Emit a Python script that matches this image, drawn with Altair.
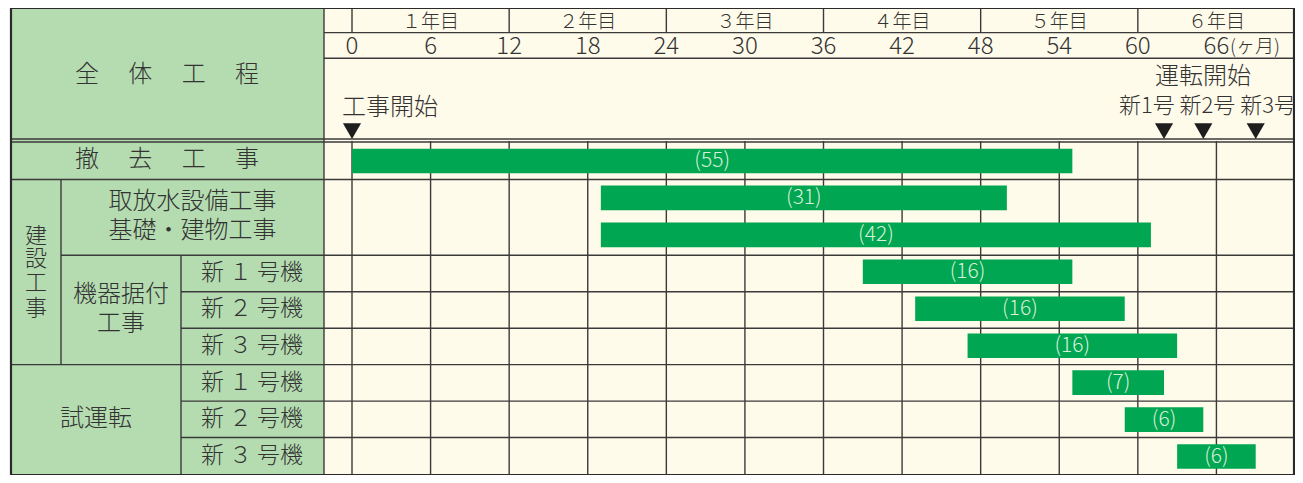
import altair as alt
import pandas as pd

# ---------------- data ----------------
tasks = ["撤去工事", "取放水設備工事", "基礎・建物工事",
         "機器据付 新1号機", "機器据付 新2号機", "機器据付 新3号機",
         "試運転 新1号機", "試運転 新2号機", "試運転 新3号機"]
start_month = [0, 19, 19, 39, 43, 47, 55, 59, 63]
end_month = [55, 50, 61, 55, 59, 63, 62, 65, 69]

month_ticks = [0, 6, 12, 18, 24, 30, 36, 42, 48, 54, 60, 66]
year_labels = ["１年目", "２年目", "３年目", "４年目", "５年目", "６年目"]
year_mid = [6, 18, 30, 42, 54, 66]
year_bounds = [0, 12, 24, 36, 48, 60]

start_marker = [0]
op_markers = [62, 65, 69]

# ---------------- layout helpers ----------------
FONT = "Noto Sans CJK JP"
W, H = 1287, 467
PPM = 13.097            # page pixels per month in the reference


def mx(px):             # reference page x -> month units
    return (px - 352) / PPM


def ry(py):             # reference page y -> row units
    return (py - 142.5) / 37.5


XMIN, XMAX = mx(8), 72.0
YMIN, YMAX = ry(6), 9.0
XR = mx(1294)

XS = alt.Scale(domain=[XMIN, XMAX], nice=False, zero=False)
YS = alt.Scale(domain=[YMIN, YMAX], nice=False, zero=False, reverse=True)

GREEN_PANEL = "#b4dcb0"
CREAM = "#fffbea"
BAR = "#00a651"
LINE = "#3a3a3a"
TXT = "#333333"


def rects(df, **kw):
    return alt.Chart(df).mark_rect(**kw).encode(
        x=alt.X("x:Q", scale=XS, axis=None), x2="x2:Q",
        y=alt.Y("y:Q", scale=YS, axis=None), y2="y2:Q")


def rules(df, **kw):
    return alt.Chart(df).mark_rule(**kw).encode(
        x=alt.X("x:Q", scale=XS, axis=None), x2="x2:Q",
        y=alt.Y("y:Q", scale=YS, axis=None), y2="y2:Q")


def texts(df, size, color=TXT, align="center", weight=300):
    return alt.Chart(df).mark_text(
        font=FONT, fontSize=size, fontWeight=weight, color=color,
        align=align, baseline="middle").encode(
        x=alt.X("x:Q", scale=XS, axis=None),
        y=alt.Y("y:Q", scale=YS, axis=None),
        text="t:N")


# ---------------- backgrounds ----------------
bg = rects(pd.DataFrame({
    "x": [mx(11), mx(324)], "x2": [mx(324), XR],
    "y": [YMIN, YMIN], "y2": [YMAX, YMAX],
    "c": [GREEN_PANEL, CREAM]})).encode(color=alt.Color("c:N", scale=None))

# ---------------- grid / table lines ----------------
seg = []
for yy in (31, 57):
    seg.append((mx(324), XR, ry(yy), ry(yy)))
for yy in (139, 142):
    seg.append((mx(11), XR, ry(yy), ry(yy)))
for yy, x0 in [(180, 11), (257, 61), (294, 181), (331, 181), (368, 11), (405, 181), (442, 181)]:
    seg.append((mx(x0), XR, ry(yy), ry(yy)))
seg.append((mx(61), mx(61), ry(180), ry(368)))
seg.append((mx(181), mx(181), ry(257), YMAX))
seg.append((mx(324), mx(324), YMIN, YMAX))
for m in year_bounds:
    seg.append((m, m, YMIN, ry(31)))
for m in month_ticks:
    seg.append((m, m, ry(141), YMAX))
grid = rules(pd.DataFrame(seg, columns=["x", "x2", "y", "y2"]),
             color=LINE, strokeWidth=1.4)

border = rules(pd.DataFrame([
    (mx(11), XR, YMIN, YMIN), (mx(11), XR, YMAX, YMAX),
    (mx(11), mx(11), YMIN, YMAX), (XR, XR, YMIN, YMAX)],
    columns=["x", "x2", "y", "y2"]), color="#2a2a2a", strokeWidth=2.2)

# ---------------- bars ----------------
bars_df = pd.DataFrame({"task": tasks, "s": start_month, "e": end_month})
bars_df["lane"] = range(len(tasks))
bars_df["y"] = bars_df["lane"] + 0.5 - 0.333
bars_df["y2"] = bars_df["lane"] + 0.5 + 0.333
bars_df["mid"] = (bars_df["s"] + bars_df["e"]) / 2
bars_df["yc"] = bars_df["lane"] + 0.5
bars_df["label"] = "(" + (bars_df["e"] - bars_df["s"]).astype(str) + ")"

bars = alt.Chart(bars_df).mark_rect(color=BAR).encode(
    x=alt.X("s:Q", scale=XS, axis=None), x2="e:Q",
    y=alt.Y("y:Q", scale=YS, axis=None), y2="y2:Q")

bar_labels = alt.Chart(bars_df).mark_text(
    font=FONT, fontSize=21, fontWeight=300, color="#d8efd8",
    align="center", baseline="middle").encode(
    x=alt.X("mid:Q", scale=XS, axis=None),
    y=alt.Y("yc:Q", scale=YS, axis=None),
    text="label:N")

# ---------------- header texts ----------------
year_txt = texts(pd.DataFrame({"x": year_mid, "y": [ry(20)] * 6, "t": year_labels}), 19)
month_txt = texts(pd.DataFrame({"x": month_ticks, "y": [ry(46)] * len(month_ticks),
                                "t": [str(m) for m in month_ticks]}), 24)
unit_txt = texts(pd.DataFrame({"x": [mx(1230)], "y": [ry(46)], "t": ["(ヶ月)"]}), 19, align="left")

ms_left = texts(pd.DataFrame({"x": [mx(342)], "y": [ry(107)], "t": ["工事開始"]}), 24, align="left")
ms_right = texts(pd.DataFrame({"x": [mx(1203)], "y": [ry(76)], "t": ["運転開始"]}), 24)
ms_units = texts(pd.DataFrame({"x": [mx(1296)], "y": [ry(105)], "t": ["新1号 新2号 新3号"]}), 22, align="right")

markers = alt.Chart(pd.DataFrame({"m": start_marker + op_markers})).mark_point(
    shape="triangle-down", filled=True, color="#1e1e1e", size=330, opacity=1).encode(
    x=alt.X("m:Q", scale=XS, axis=None),
    y=alt.Y("yy:Q", scale=YS, axis=None)).transform_calculate(yy=str(ry(131)))

# ---------------- table texts ----------------
SP = "\u3000 "
table_txt = texts(pd.DataFrame({
    "x": [mx(167), mx(167), mx(96),
          mx(192.5), mx(192.5),
          mx(121), mx(121)],
    "y": [ry(74), ry(160), ry(423),
          ry(203), ry(232),
          ry(297), ry(327)],
    "t": [SP.join("全体工程"), SP.join("撤去工事"), "試運転",
          "取放水設備工事", "基礎・建物工事",
          "機器据付", "工事"]}), 24)

vert_txt = texts(pd.DataFrame({
    "x": [mx(36)] * 4,
    "y": [ry(237), ry(261), ry(285), ry(310)],
    "t": ["建", "設", "工", "事"]}), 22)

unit_rows = texts(pd.DataFrame({
    "x": [mx(252)] * 6,
    "y": [ry(275), ry(312), ry(349.5), ry(386.5), ry(423.5), ry(461)],
    "t": ["新 １ 号機", "新 ２ 号機", "新 ３ 号機"] * 2}), 23)

chart = alt.layer(
    bg, grid, bars, bar_labels, border,
    year_txt, month_txt, unit_txt, ms_left, ms_right, ms_units, markers,
    table_txt, vert_txt, unit_rows
).properties(
    width=W, height=H, padding=0, autosize="none", background="white"
).configure_view(stroke=None)

chart.save("out.html", embed_options={"renderer": "svg", "actions": False})
